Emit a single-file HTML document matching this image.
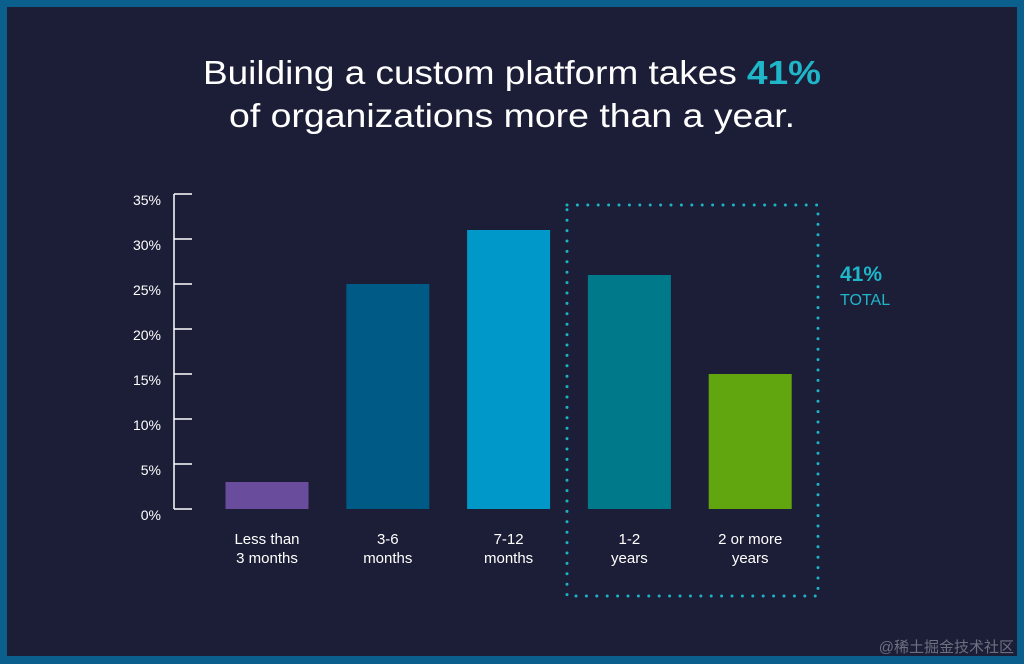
<!DOCTYPE html>
<html><head><meta charset="utf-8"><style>
html,body{margin:0;padding:0;background:#0b5f8c;}
svg{display:block;font-family:"Liberation Sans",sans-serif;}
</style></head><body>
<svg width="1024" height="664" viewBox="0 0 1024 664">
<rect x="0" y="0" width="1024" height="664" fill="#0b5f8c"/>
<rect x="7" y="7" width="1010" height="649" fill="#1c1e37"/>
<text x="512" y="84" text-anchor="middle" font-size="33" fill="#ffffff" textLength="618" lengthAdjust="spacingAndGlyphs">Building a custom platform takes <tspan fill="#1fb6c9" font-weight="bold">41%</tspan></text>
<text x="512" y="127" text-anchor="middle" font-size="33" fill="#ffffff" textLength="566" lengthAdjust="spacingAndGlyphs">of organizations more than a year.</text>
<g id="axis"></g>
<g id="bars"></g>
<g id="xlabels"></g>
<g id="dots"></g>
<text x="840" y="281" font-size="21" font-weight="bold" fill="#1fb6c9">41%</text>
<text x="840" y="305" font-size="16" fill="#1fb6c9">TOTAL</text>
<text x="1014" y="652" text-anchor="end" font-size="15" fill="#6e7080" font-family="'Liberation Sans','Noto Sans CJK SC',sans-serif">@稀土掘金技术社区</text>
</svg>
<script>
const categories = [["Less than","3 months"],["3-6","months"],["7-12","months"],["1-2","years"],["2 or more","years"]];
const values = [3, 25, 31, 26, 15];
const colors = ["#6a4c9c","#005a86","#0098c9","#007a8a","#62a60f"];
const tickValues = [0,5,10,15,20,25,30,35];
const tickLabels = ["0%","5%","10%","15%","20%","25%","30%","35%"];
const NS="http://www.w3.org/2000/svg";
const y0=509, yTop=194, maxV=35;
function yScale(v){return y0-(y0-yTop)*v/maxV;}
function xCenter(i){return 267+i*120.8;}
const barW=83;
function mk(tag,attrs,parent){const e=document.createElementNS(NS,tag);for(const k in attrs)e.setAttribute(k,attrs[k]);parent.appendChild(e);return e;}
const axis=document.getElementById('axis');
const al=mk('line',{x1:174,x2:174,y1:yScale(maxV),y2:yScale(0),stroke:'#ffffff','stroke-width':1.5},axis);


tickValues.forEach((v,i)=>{
  const t=mk('line',{x1:174,x2:192,y1:yScale(v),y2:yScale(v),stroke:'#ffffff','stroke-width':1.5},axis);
  
  
  const l=mk('text',{x:161,y:yScale(v)+11,'text-anchor':'end','font-size':14,fill:'#ffffff'},axis);
  l.textContent=tickLabels[i];
  
  
});
const bars=document.getElementById('bars');
const xl=document.getElementById('xlabels');
values.forEach((v,i)=>{
  const b=mk('rect',{x:xCenter(i)-barW/2,y:yScale(v),width:barW,height:yScale(0)-yScale(v),fill:colors[i]},bars);
  
  
  categories[i].forEach((s,j)=>{
    const t=mk('text',{x:xCenter(i),y:544+j*19,'text-anchor':'middle','font-size':15,fill:'#ffffff'},xl);
    t.textContent=s;
    
    
  });
});
const d=document.getElementById('dots');
const r=mk('rect',{x:567,y:205,width:251,height:391,fill:'none',stroke:'#1cb3c6','stroke-width':3,'stroke-dasharray':'0 10.4','stroke-linecap':'round'},d);


</script>
</body></html>
